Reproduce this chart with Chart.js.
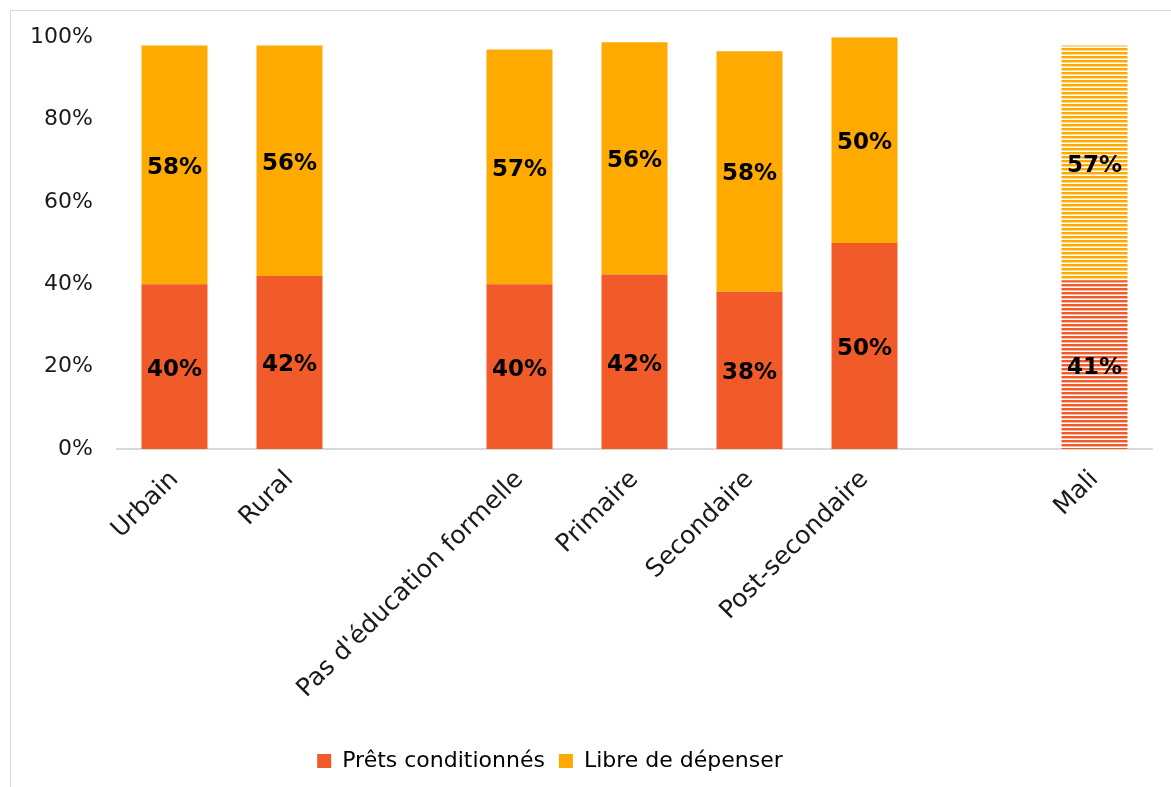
<!DOCTYPE html>
<html>
<head>
<meta charset="utf-8">
<script src="https://cdn.jsdelivr.net/npm/chart.js@4"></script>
<style>
    body { margin: 0; background: #fff; }
    #wrap { position: relative; width: 1171px; height: 787px; overflow: hidden; }
    #frame { position: absolute; left: 10px; top: 10px; width: 1170px; height: 790px; border: 1px solid #d9d9d9; pointer-events: none; }
</style>
</head>
<body>
<div id="wrap">
    <canvas id="chart" width="1171" height="787"></canvas>
    <div id="frame"></div>
</div>
<script>
// Categories (empty strings are the gaps between groups)
const categories = ["Urbain", "Rural", "", "Pas d'éducation formelle", "Primaire", "Secondaire", "Post-secondaire", "", "Mali"];

// Series values (%)
const pretsConditionnes = [40, 42, null, 40, 42.4, 38.2, 50, null, 41];
const libreDeDepenser = [58, 56, null, 57, 56.4, 58.4, 50, null, 57];

const yTicks = [0, 20, 40, 60, 80, 100];

const RED = "#F15A29";
const ORANGE = "#FFAA00";
const FONT = "'DejaVu Sans', sans-serif";

// Horizontal stripes for the Mali bar
function stripes(color) {
    const c = document.createElement("canvas");
    c.width = 8;
    c.height = 4;
    const g = c.getContext("2d");
    g.fillStyle = "#ffffff";
    g.fillRect(0, 0, 8, 4);
    g.fillStyle = color;
    g.fillRect(0, 0, 8, 2);
    g.globalAlpha = 0.45;
    g.fillRect(0, 2, 8, 1);
    return g.createPattern(c, "repeat");
}

const ctx = document.getElementById("chart").getContext("2d");
const redStripes = stripes(RED);
const orangeStripes = stripes(ORANGE);

// Draw the rounded value in the middle of each segment
const segmentLabels = {
    id: "segmentLabels",
    afterDatasetsDraw(chart) {
        const c = chart.ctx;
        c.save();
        c.font = "bold 23px " + FONT;
        c.fillStyle = "#000";
        c.textAlign = "center";
        c.textBaseline = "middle";
        chart.data.datasets.forEach((ds, i) => {
            chart.getDatasetMeta(i).data.forEach((bar, j) => {
                const v = ds.data[j];
                if (v == null) return;
                const mid = (bar.y + bar.base) / 2;
                c.fillText(Math.round(v) + "%", bar.x, mid + 3);
            });
        });
        c.restore();
    }
};

// Legend sits a little left of centre in the original
const shiftLegend = {
    id: "shiftLegend",
    afterLayout(chart) {
        chart.legend.left -= 26;
        chart.legend.right -= 26;
    }
};

new Chart(ctx, {
    type: "bar",
    data: {
        labels: categories,
        datasets: [
            {
                label: "Prêts conditionnés",
                data: pretsConditionnes,
                backgroundColor: (c) => c.dataIndex === 8 ? redStripes : RED,
                borderWidth: 0
            },
            {
                label: "Libre de dépenser",
                data: libreDeDepenser,
                backgroundColor: (c) => c.dataIndex === 8 ? orangeStripes : ORANGE,
                borderWidth: 0
            }
        ]
    },
    options: {
        responsive: false,
        animation: false,
        events: [],
        datasets: {
            bar: { barPercentage: 0.574, categoryPercentage: 1.0 }
        },
        layout: { padding: { top: 31, right: 19, bottom: 5, left: 0 } },
        plugins: {
            tooltip: { enabled: false },
            legend: {
                position: "bottom",
                labels: {
                    color: "#1a1a1a",
                    font: { family: FONT, size: 22 },
                    boxWidth: 14,
                    boxHeight: 14,
                    padding: 14,
                    generateLabels: (chart) => chart.data.datasets.map((ds, i) => ({
                        text: ds.label,
                        fillStyle: i === 0 ? RED : ORANGE,
                        strokeStyle: "transparent",
                        lineWidth: 0,
                        datasetIndex: i
                    }))
                }
            }
        },
        scales: {
            x: {
                stacked: true,
                grid: { display: false, drawTicks: false },
                border: { color: "#d9d9d9", width: 2 },
                ticks: {
                    color: "#1a1a1a",
                    font: { family: FONT, size: 25 },
                    minRotation: 45,
                    maxRotation: 45,
                    autoSkip: false,
                    padding: 16
                },
                afterFit: (s) => { s.height = 287; }
            },
            y: {
                stacked: true,
                min: 0,
                max: 100,
                afterBuildTicks: (s) => { s.ticks = yTicks.map(v => ({ value: v })); },
                grid: { display: false, drawTicks: false },
                border: { display: false },
                ticks: {
                    color: "#1a1a1a",
                    font: { family: FONT, size: 22 },
                    padding: 24,
                    callback: (v) => v + "%"
                },
                afterFit: (s) => { s.width = 117; }
            }
        }
    },
    plugins: [segmentLabels, shiftLegend]
});
</script>
</body>
</html>
